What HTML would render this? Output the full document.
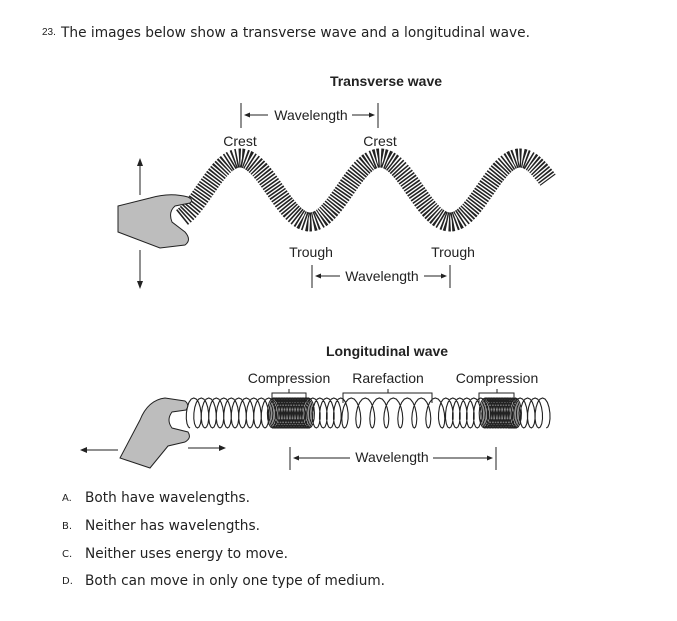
<!DOCTYPE html>
<html><head><style>
body{margin:0;background:#fff;width:677px;height:616px;overflow:hidden;font-family:"Liberation Sans",sans-serif;color:#111}
</style></head><body>
<svg id="s" width="677" height="616" xmlns="http://www.w3.org/2000/svg" font-family="Liberation Sans, sans-serif" fill="#222">
<text x="42" y="35" font-size="10">23.</text>
<text x="61" y="37" font-size="14" font-family="DejaVu Sans, sans-serif" textLength="469" lengthAdjust="spacingAndGlyphs">The images below show a transverse wave and a longitudinal wave.</text>
<text x="386" y="86" font-size="14" font-weight="bold" text-anchor="middle">Transverse wave</text>
<g stroke="#222" stroke-width="1" fill="none">
<line x1="241" y1="103" x2="241" y2="128"/><line x1="378" y1="103" x2="378" y2="128"/>
<line x1="245" y1="115" x2="268" y2="115"/><line x1="352" y1="115" x2="374" y2="115"/>
<line x1="312" y1="265" x2="312" y2="288"/><line x1="450" y1="265" x2="450" y2="288"/>
<line x1="316" y1="276" x2="340" y2="276"/><line x1="424" y1="276" x2="446" y2="276"/>
<line x1="140" y1="163" x2="140" y2="195"/><line x1="140" y1="250" x2="140" y2="284"/>
</g>
<g fill="#222">
<polygon points="244,115 250,112.5 250,117.5"/><polygon points="375,115 369,112.5 369,117.5"/>
<polygon points="315,276 321,273.5 321,278.5"/><polygon points="447,276 441,273.5 441,278.5"/>
<polygon points="140,158 137,166 143,166"/><polygon points="140,289 137,281 143,281"/>
</g>
<text x="311" y="120" font-size="14" text-anchor="middle">Wavelength</text>
<text x="382" y="281" font-size="14" text-anchor="middle">Wavelength</text>
<text x="240" y="146" font-size="14" text-anchor="middle">Crest</text>
<text x="380" y="146" font-size="14" text-anchor="middle">Crest</text>
<text x="311" y="257" font-size="14" text-anchor="middle">Trough</text>
<text x="453" y="257" font-size="14" text-anchor="middle">Trough</text>
<g id="tw"></g>
<path d="M118,206 L150,198 Q170,192 188,197 Q194,200 190,203 L175,206 Q168,212 172,222 L185,232 Q192,240 185,245 L160,248 L118,232 Z" fill="#bdbdbd" stroke="#222" stroke-width="1"/>
<text x="387" y="356" font-size="14" font-weight="bold" text-anchor="middle">Longitudinal wave</text>
<text x="289" y="383" font-size="14" text-anchor="middle">Compression</text>
<text x="388" y="383" font-size="14" text-anchor="middle">Rarefaction</text>
<text x="497" y="383" font-size="14" text-anchor="middle">Compression</text>
<g stroke="#222" stroke-width="1" fill="none">
<path d="M272,403 V393 H306 V403 M289,393 V389"/>
<path d="M343,403 V393 H432 V403 M388,393 V389"/>
<path d="M479,403 V393 H514 V403 M497,393 V389"/>
<line x1="290" y1="447" x2="290" y2="470"/><line x1="496" y1="447" x2="496" y2="470"/>
<line x1="295" y1="458" x2="350" y2="458"/><line x1="433" y1="458" x2="490" y2="458"/>
<line x1="82" y1="450" x2="118" y2="450"/><line x1="188" y1="448" x2="222" y2="448"/>
</g>
<g fill="#222">
<polygon points="293,458 299,455.5 299,460.5"/><polygon points="493,458 487,455.5 487,460.5"/>
<polygon points="80,450 87,447 87,453"/><polygon points="226,448 219,445 219,451"/>
</g>
<text x="392" y="462" font-size="14" text-anchor="middle">Wavelength</text>
<g id="lw"></g>
<path d="M120,458 L140,420 Q148,400 165,398 L185,401 Q190,405 186,410 L172,412 Q166,420 172,428 L188,432 Q192,438 185,442 L168,446 L150,468 Z" fill="#bdbdbd" stroke="#222" stroke-width="1"/>
<g font-size="14" font-family="DejaVu Sans, sans-serif">
<text x="62" y="501" font-size="10">A.</text><text x="85" y="502" textLength="165" lengthAdjust="spacingAndGlyphs">Both have wavelengths.</text>
<text x="62" y="529" font-size="10">B.</text><text x="85" y="530" textLength="175" lengthAdjust="spacingAndGlyphs">Neither has wavelengths.</text>
<text x="62" y="557" font-size="10">C.</text><text x="85" y="558" textLength="203" lengthAdjust="spacingAndGlyphs">Neither uses energy to move.</text>
<text x="62" y="584" font-size="10">D.</text><text x="85" y="585" textLength="300" lengthAdjust="spacingAndGlyphs">Both can move in only one type of medium.</text>
</g>
</svg>
<script>
var NS="http://www.w3.org/2000/svg";
var d="";
for(var x=182;x<=548;x+=2){var y=190-32*Math.sin(2*Math.PI*(x-205)/140);d+=(x==182?"M":"L")+x+","+y.toFixed(1);}
var p=document.createElementNS(NS,"path");p.setAttribute("d",d);p.setAttribute("fill","none");p.setAttribute("stroke","#222");p.setAttribute("stroke-width","19");p.setAttribute("stroke-dasharray","1.6 1.4");
document.getElementById("tw").appendChild(p);
function sp(x){if((x>270&&x<308)||(x>478&&x<515))return 1.6;if(x>340&&x<435)return 14;if(x>308&&x<340||x>435&&x<478)return 7;return 7.5;}
var cs=[],x=190;while(x<548){cs.push(x);x+=sp(x);}
var ld="";
for(var i=0;i<cs.length-1;i++){var a=cs[i],b=cs[i+1];for(var k=0;k<=16;k++){var t=k/16,th=2*Math.PI*t;var xx=a+(b-a)*t-5.5*Math.sin(th);var yy=413+15*Math.cos(th);ld+=(i==0&&k==0?"M":"L")+xx.toFixed(1)+","+yy.toFixed(1);}}
var q=document.createElementNS(NS,"path");q.setAttribute("d",ld);q.setAttribute("fill","none");q.setAttribute("stroke","#222");q.setAttribute("stroke-width","1.1");
document.getElementById("lw").appendChild(q);
</script>
</body></html>
